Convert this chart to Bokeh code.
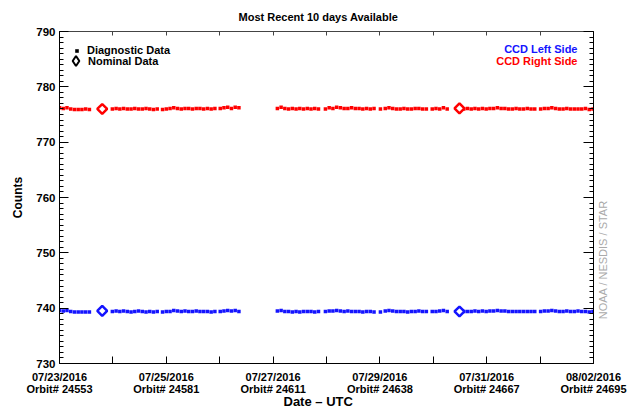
import math
from bokeh.plotting import figure
from bokeh.models import (Range1d, LinearAxis, FixedTicker, Label, Legend,
                          LegendItem, Title)
from bokeh.embed import file_html
from bokeh.resources import INLINE

# ---------------- data ----------------
# days since 07/23/2016 00:00 UTC
diag_days = [0.00, 0.07, 0.14, 0.21, 0.28, 0.35, 0.42, 0.49, 0.56,
             0.99, 1.06, 1.13, 1.20, 1.27, 1.34, 1.41, 1.48, 1.55, 1.62, 1.69, 1.76, 1.83,
             1.93, 2.00, 2.07, 2.14, 2.21, 2.28, 2.35, 2.42, 2.49, 2.56, 2.63, 2.70, 2.77, 2.84, 2.91,
             3.01, 3.08, 3.15, 3.22, 3.29, 3.36,
             4.08, 4.15, 4.22, 4.29, 4.36, 4.43, 4.50, 4.57, 4.64, 4.71, 4.78, 4.85,
             4.98, 5.05, 5.12, 5.19, 5.26, 5.33, 5.40, 5.47, 5.54, 5.61, 5.68, 5.75, 5.82, 5.89,
             6.01,
             6.10, 6.17, 6.24, 6.31, 6.38, 6.45, 6.52, 6.59, 6.66, 6.73, 6.80, 6.87,
             6.98, 7.05, 7.12, 7.19, 7.26,
             7.57, 7.64, 7.71, 7.78, 7.85, 7.92, 7.99, 8.06, 8.13, 8.20, 8.27, 8.34, 8.41, 8.48,
             8.55, 8.62, 8.69, 8.76, 8.83, 8.90,
             9.01, 9.08, 9.15, 9.22, 9.29, 9.36, 9.43, 9.50, 9.57, 9.64, 9.71, 9.78, 9.85, 9.92,
             9.99]

right_counts = [776.2, 776.1, 776.2, 776.0, 775.9, 775.9, 775.9, 776.0, 775.9,
                776.0, 776.1, 776.0, 776.1, 776.0, 776.0, 776.1, 776.0, 776.0, 776.1, 776.0, 775.9, 776.0,
                775.9, 776.0, 776.1, 776.2, 776.1, 776.0, 776.1, 776.1, 776.0, 776.1, 776.1, 776.0, 776.1, 776.0, 776.1,
                776.1, 776.2, 776.3, 776.1, 776.3, 776.2,
                776.1, 776.3, 776.1, 776.0, 776.1, 776.0, 776.1, 776.0, 776.1, 776.0, 776.1, 776.0,
                776.0, 776.2, 776.1, 776.3, 776.2, 776.1, 776.1, 776.2, 776.1, 776.1, 776.0, 776.1, 776.0, 776.1,
                776.0,
                776.1, 776.2, 776.1, 776.0, 776.0, 776.1, 776.0, 776.0, 776.1, 776.1, 776.0, 776.0,
                776.0, 776.1, 776.0, 776.2, 776.0,
                776.0, 776.1, 776.0, 776.1, 776.0, 776.1, 776.0, 776.1, 776.1, 776.2, 776.1, 776.1, 776.0, 776.0,
                776.1, 776.0, 776.0, 776.1, 776.0, 776.0,
                776.0, 776.1, 776.1, 776.2, 776.1, 776.0, 776.0, 776.1, 776.0, 776.0, 776.0, 776.0, 776.1, 775.9,
                776.0]

left_counts = [739.6, 739.5, 739.6, 739.4, 739.3, 739.3, 739.3, 739.3, 739.3,
               739.4, 739.5, 739.4, 739.5, 739.4, 739.3, 739.4, 739.5, 739.4, 739.3, 739.4, 739.3, 739.4,
               739.3, 739.4, 739.4, 739.6, 739.5, 739.4, 739.5, 739.4, 739.4, 739.5, 739.4, 739.4, 739.4, 739.3, 739.4,
               739.4, 739.5, 739.6, 739.5, 739.6, 739.4,
               739.5, 739.6, 739.4, 739.4, 739.3, 739.4, 739.3, 739.4, 739.4, 739.4, 739.3, 739.4,
               739.4, 739.5, 739.5, 739.6, 739.5, 739.4, 739.5, 739.4, 739.4, 739.4, 739.3, 739.4, 739.4, 739.3,
               739.3,
               739.5, 739.6, 739.5, 739.4, 739.4, 739.4, 739.3, 739.4, 739.4, 739.5, 739.4, 739.4,
               739.4, 739.4, 739.5, 739.6, 739.4,
               739.4, 739.4, 739.4, 739.5, 739.4, 739.5, 739.4, 739.5, 739.5, 739.6, 739.5, 739.5, 739.4, 739.4,
               739.4, 739.4, 739.4, 739.4, 739.4, 739.4,
               739.4, 739.5, 739.5, 739.6, 739.5, 739.4, 739.4, 739.5, 739.4, 739.4, 739.5, 739.4, 739.4, 739.3,
               739.4]

nominal_days = [0.80, 7.49]
nominal_right = [776.0, 776.1]
nominal_left = [739.5, 739.4]

tick_days = [0, 2, 4, 6, 8, 10]
tick_dates = ["07/23/2016", "07/25/2016", "07/27/2016", "07/29/2016", "07/31/2016", "08/02/2016"]
tick_orbits = ["24553", "24581", "24611", "24638", "24667", "24695"]
y_ticks = [730, 740, 750, 760, 770, 780, 790]
credit_text = "NOAA / NESDIS / STAR"
credit_at = 738

FONT = "Liberation Sans"
RED = "#ff0000"
BLUE = "#1414ff"

p = figure(width=629, height=410, x_range=Range1d(0, 10), y_range=Range1d(730, 790),
           output_backend="svg", toolbar_location=None,
           min_border_left=59, min_border_right=36, min_border_top=31, min_border_bottom=47,
           title="Most Recent 10 days Available")
p.title.align = "left"
p.title.offset = 179
p.title.text_font = FONT
p.title.text_font_size = "11px"
p.title.text_font_style = "bold"
p.title.text_color = "black"
p.title.text_line_height = 1.0
p.title.standoff = 17
p.outline_line_color = None
p.grid.visible = False
p.background_fill_color = "white"
p.border_fill_color = "white"

x_major = list(range(0, 11))
x_labels = {d: "" for d in x_major}
for d, dt, ob in zip(tick_days, tick_dates, tick_orbits):
    x_labels[d] = f"{dt}\nOrbit# {ob}"
x_ticker = FixedTicker(ticks=x_major, minor_ticks=[])
y_ticker = FixedTicker(ticks=y_ticks, minor_ticks=list(range(730, 791)))

xa = p.xaxis[0]
xa.ticker = x_ticker
xa.major_label_overrides = x_labels
xa.major_tick_in = 7
xa.major_tick_out = 0
xa.minor_tick_in = 0
xa.minor_tick_out = 0
xa.major_label_standoff = 7
xa.major_label_text_font = FONT
xa.major_label_text_font_size = "11px"
xa.major_label_text_font_style = "bold"
xa.major_label_text_color = "black"
xa.major_label_text_line_height = 1.05
xa.axis_line_color = "black"
xa.major_tick_line_color = "black"

ya = p.yaxis[0]
ya.ticker = y_ticker
ya.major_tick_in = 9
ya.major_tick_out = 0
ya.minor_tick_in = 4
ya.minor_tick_out = 0
ya.major_label_standoff = 4
ya.major_label_text_font = FONT
ya.major_label_text_font_size = "11.5px"
ya.major_label_text_font_style = "bold"
ya.major_label_text_color = "black"
ya.axis_label = "Counts"
ya.axis_label_text_font = FONT
ya.axis_label_text_font_size = "12px"
ya.axis_label_text_font_style = "bold"
ya.axis_label_text_color = "black"
ya.axis_label_standoff = 8
ya.axis_line_color = "black"

ra = LinearAxis(ticker=y_ticker, major_label_overrides={t: "" for t in y_ticks},
                major_label_text_font_size="0px",
                major_tick_in=10, major_tick_out=0, minor_tick_in=4, minor_tick_out=0,
                major_label_standoff=0, axis_line_color="black")
p.add_layout(ra, "right")

# credit text on the right, rotated to read bottom-to-top
ca = LinearAxis(ticker=FixedTicker(ticks=[credit_at], minor_ticks=[]),
                major_label_overrides={credit_at: credit_text},
                major_label_orientation=math.pi / 2,
                major_label_text_font=FONT, major_label_text_font_size="11px",
                major_label_text_color="#aaaaaa", major_label_standoff=4,
                major_tick_line_color=None, minor_tick_line_color=None,
                axis_line_color=None)
p.add_layout(ca, "right")

ta = LinearAxis(ticker=x_ticker, major_label_overrides={d: "" for d in x_major},
                major_label_text_font_size="0px",
                major_tick_in=4, major_tick_out=0, minor_tick_in=0, minor_tick_out=0,
                major_label_standoff=0, axis_line_color="#444444", major_tick_line_color="#444444")
p.add_layout(ta, "above")

p.add_layout(Title(text="Date \u2013 UTC", align="left", offset=224, standoff=-14,
                   text_font=FONT, text_font_size="13px", text_font_style="bold",
                   text_line_height=1.0, text_color="black"), "below")

# data marks
p.scatter(diag_days, right_counts, marker="square", size=3.5, color=RED, line_width=0)
p.scatter(diag_days, left_counts, marker="square", size=3.5, color=BLUE, line_width=0)
p.scatter(nominal_days, nominal_right, marker="square", angle=math.pi / 4, size=7,
          line_color=RED, line_width=2.5, fill_color="white")
p.scatter(nominal_days, nominal_left, marker="square", angle=math.pi / 4, size=7,
          line_color=BLUE, line_width=2.5, fill_color="white")

# legend (symbols only, renderers carry no visible data)
nan = float("nan")
r_diag = p.scatter([nan], [nan], marker="square", color="black", line_width=0)
r_nom = p.scatter([nan], [nan], marker="diamond",
                  line_color="black", line_width=2, fill_color="white")
legend_common = dict(margin=0, padding=0, spacing=0,
                     label_text_font=FONT, label_text_font_size="11px",
                     label_text_font_style="bold", label_text_color="black",
                     border_line_alpha=0, background_fill_alpha=0)
leg_a = Legend(items=[LegendItem(label="Diagnostic Data", renderers=[r_diag])],
               location=(13, 307), glyph_width=9, glyph_height=11, label_height=11,
               label_standoff=6, **legend_common)
leg_b = Legend(items=[LegendItem(label="Nominal Data", renderers=[r_nom])],
               location=(4, 290), glyph_width=25, glyph_height=25, label_height=25,
               label_standoff=-2, **legend_common)
p.add_layout(leg_a)
p.add_layout(leg_b)

p.add_layout(Label(x=9.70, y=786.75, text="CCD Left Side", text_align="right",
                   text_baseline="middle", text_font=FONT, text_font_size="11px",
                   text_font_style="bold", text_color=BLUE))
p.add_layout(Label(x=9.70, y=784.75, text="CCD Right Side", text_align="right",
                   text_baseline="middle", text_font=FONT, text_font_size="11px",
                   text_font_style="bold", text_color=RED))

open("out.html", "w").write(file_html(p, INLINE))
